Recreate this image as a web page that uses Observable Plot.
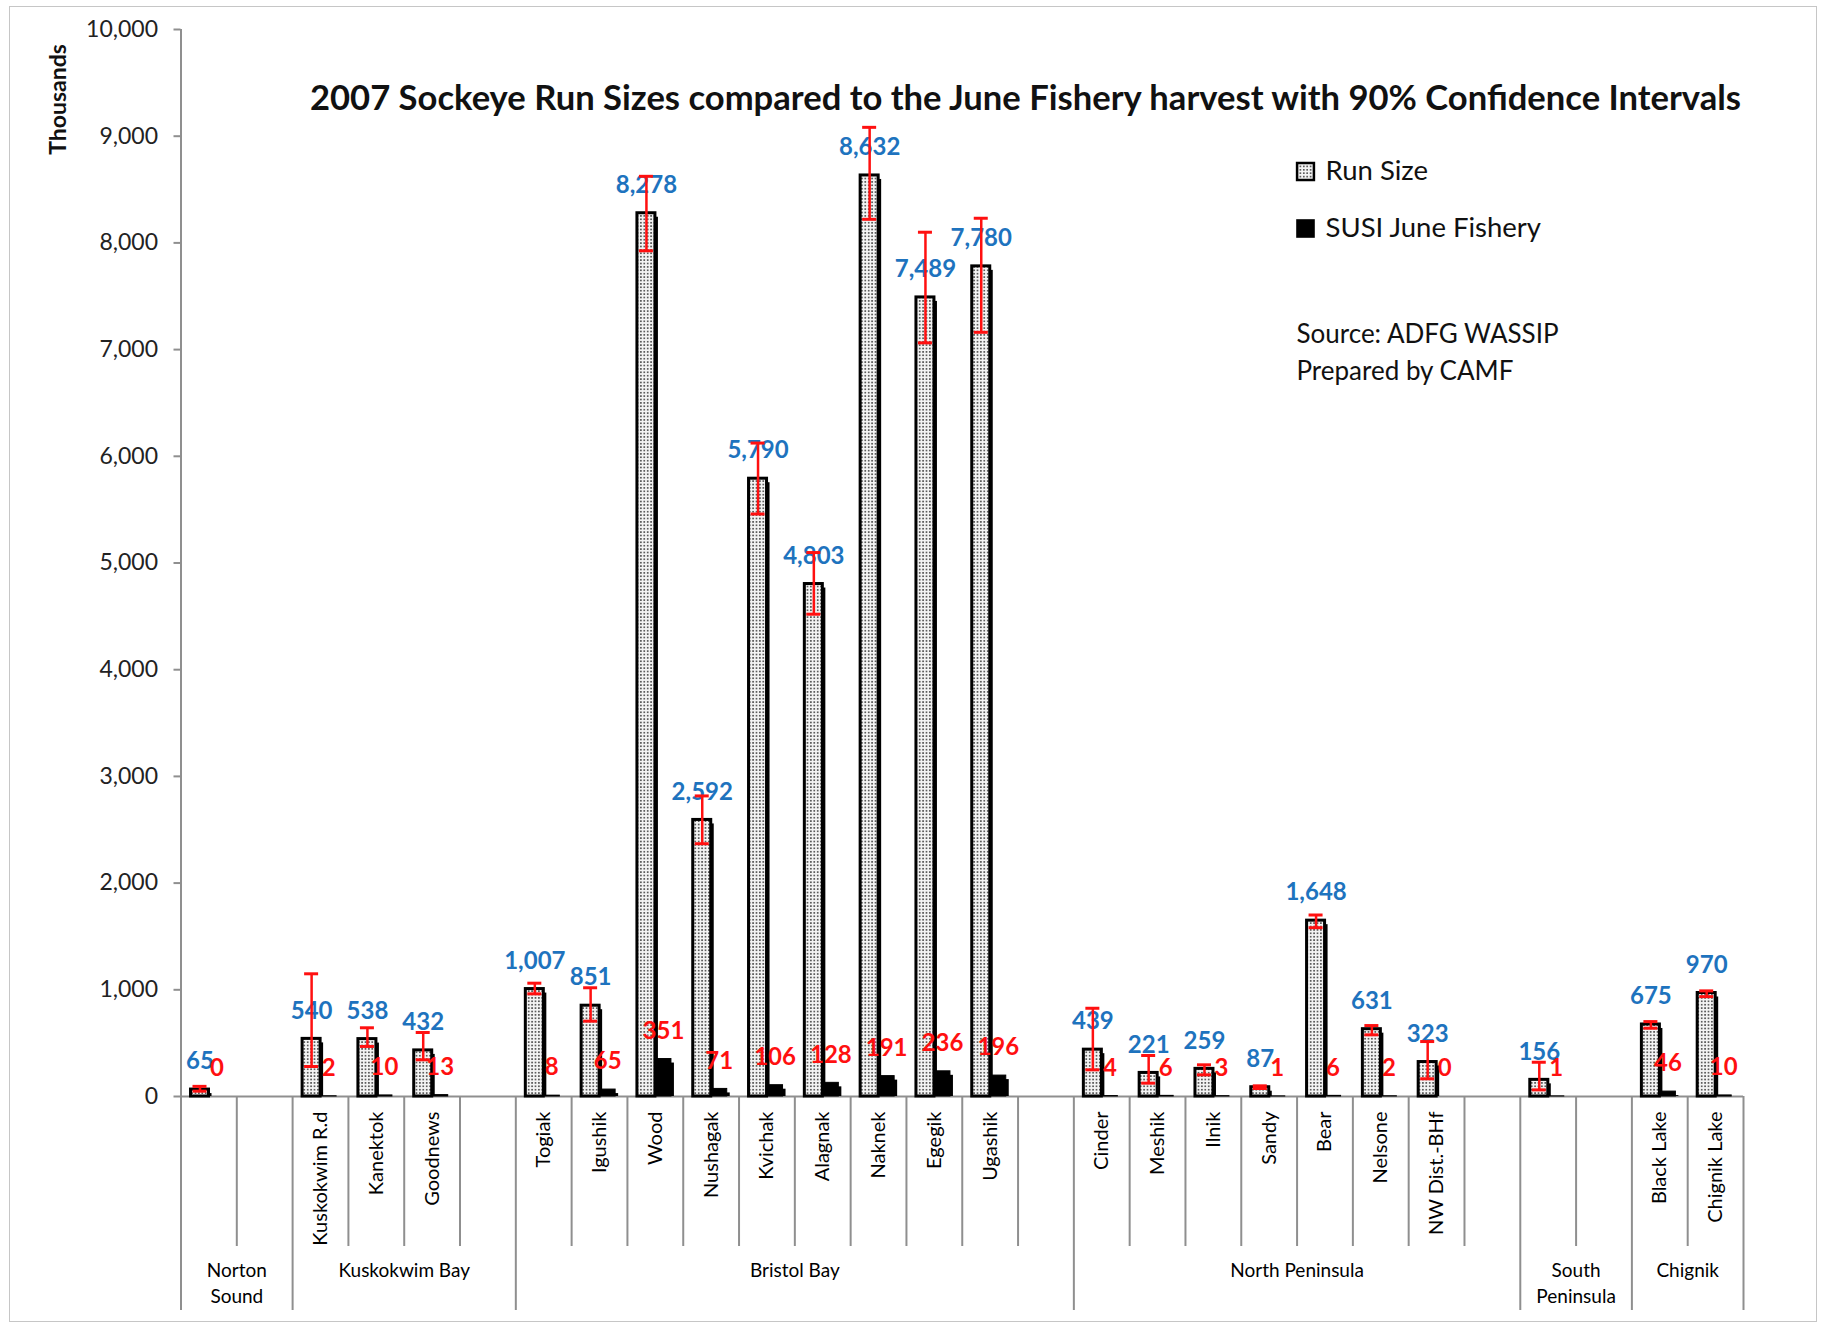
<!DOCTYPE html>
<html>
<head>
<meta charset="utf-8">
<script src="https://cdn.jsdelivr.net/npm/d3@7"></script>
<script src="https://cdn.jsdelivr.net/npm/@observablehq/plot@0.6"></script>
<style>
  body { margin: 0; background: #fff; }
  #chart { position: relative; width: 1826px; height: 1326px; }
  #chart .frame { position: absolute; left: 9px; top: 6px; width: 1806px; height: 1314px; border: 1.5px solid #c6c6c6; pointer-events: none; }
  #chart svg { position: absolute; left: 0; top: 0; }
</style>
</head>
<body>
<div id="chart"><div class="frame"></div></div>
<script>
// One slot per stock on the category axis; "" marks an unlabeled slot.
const stocks = ["", "", "Kuskokwim R.d", "Kanektok", "Goodnews", "", "Togiak", "Igushik", "Wood", "Nushagak",
  "Kvichak", "Alagnak", "Naknek", "Egegik", "Ugashik", "", "Cinder", "Meshik", "Ilnik", "Sandy", "Bear",
  "Nelsone", "NW Dist.-BHf", "", "", "", "Black Lake", "Chignik Lake"];

// 2007 sockeye run size (thousands of fish)
const runSize = [65, null, 540, 538, 432, null, 1007, 851, 8278, 2592, 5790, 4803, 8632, 7489, 7780, null,
  439, 221, 259, 87, 1648, 631, 323, null, 156, null, 675, 970];

// 90% confidence interval bounds of the run size
const runLow = [50, null, 281, 469, 344, null, 962, 706, 7926, 2369, 5459, 4520, 8221, 7063, 7162, null,
  250, 125, 203, 75, 1582, 578, 166, null, 62, null, 640, 936];
const runHigh = [95, null, 1150, 644, 600, null, 1062, 1019, 8624, 2817, 6124, 5098, 9083, 8100, 8231, null,
  827, 384, 297, 100, 1701, 665, 515, null, 321, null, 702, 990];

// SUSI June fishery harvest (thousands of fish)
const susiHarvest = [0, null, 2, 10, 13, null, 8, 65, 351, 71, 106, 128, 191, 236, 196, null,
  4, 6, 3, 1, 6, 2, 0, null, 1, null, 46, 10];

// Region groups and how many slots each spans
const regions = ["Norton\nSound", "Kuskokwim Bay", "Bristol Bay", "North Peninsula", "South\nPeninsula", "Chignik"];
const regionSlots = [2, 4, 10, 8, 2, 2];

const yTicks = [0, 1000, 2000, 3000, 4000, 5000, 6000, 7000, 8000, 9000, 10000];

const titleText = "2007 Sockeye Run Sizes compared to the June Fishery harvest with 90% Confidence Intervals";
const seriesNames = ["Run Size", "SUSI June Fishery"];
const sourceLines = ["Source: ADFG WASSIP", "Prepared by CAMF"];

// ---- derived tables ----
const rows = stocks.map((name, i) => ({
  i, name, run: runSize[i], low: runLow[i], high: runHigh[i], susi: susiHarvest[i]
}));
const filled = rows.filter(d => d.run != null);
const bounds = [0];
regionSlots.forEach(n => bounds.push(bounds[bounds.length - 1] + n));
const regionRows = regions.map((name, k) => ({name, mid: (bounds[k] + bounds[k + 1]) / 2}));
const innerBounds = d3.range(1, stocks.length).filter(i => !bounds.includes(i));

const fmt = d3.format(",");
const blue = "#1e73be";
const red = "#ff1010";
const axisGray = "#8f8f8f";
const dots = "url(#runDots)";

// bar geometry inside each slot (pixels)
const runIn = [10, 27.8];
const susiIn = [28, 11.8];
const runShift = -8.9;   // centre of run bar relative to slot centre
const susiShift = 8.1;   // centre of SUSI bar relative to slot centre

const chart = Plot.plot({
  width: 1826,
  height: 1326,
  marginLeft: 180.5,
  marginRight: 83,
  marginTop: 29,
  marginBottom: 230,
  style: {fontFamily: "Lato, 'Open Sans', sans-serif", background: "transparent", color: "#222"},
  x: {type: "linear", domain: [0, stocks.length], axis: null},
  y: {domain: [0, 10000], axis: null},
  marks: [
    // value axis
    Plot.axisY({ticks: yTicks, tickFormat: fmt, tickSize: 7, tickPadding: 16, fontSize: 23,
      color: "#222", stroke: axisGray, strokeWidth: 2, label: null}),
    Plot.ruleX([0], {y1: 0, y2: 10000, stroke: axisGray, strokeWidth: 2}),
    Plot.text(["Thousands"], {frameAnchor: "top-left", dx: -122.5, dy: 70, rotate: -90,
      textAnchor: "middle", lineAnchor: "middle", fontSize: 23, fontWeight: "bold", fill: "#111"}),

    // category axis: baseline, slot separators and region separators
    Plot.ruleY([0], {x1: 0, x2: stocks.length, stroke: axisGray, strokeWidth: 2}),
    Plot.ruleX(innerBounds, {x: d => d, y1: 0, y2: 0, insetBottom: -150, stroke: axisGray, strokeWidth: 2}),
    Plot.ruleX(bounds, {x: d => d, y1: 0, y2: 0, insetBottom: -214, stroke: axisGray, strokeWidth: 2}),
    Plot.text(rows.filter(d => d.name), {x: d => d.i + 0.5, y: 0, text: "name", rotate: -90,
      textAnchor: "end", dy: 15, fontSize: 20, fill: "#000"}),
    Plot.text(regionRows, {x: "mid", y: 0, text: "name", lineAnchor: "top", lineHeight: 1.37,
      dy: 162, fontSize: 19, fill: "#000"}),

    // bar shadows
    Plot.rect(filled, {x1: "i", x2: d => d.i + 1, y1: 0, y2: "run", insetLeft: runIn[0], insetRight: runIn[1],
      insetBottom: 4, dx: 3, dy: 4, fill: "#000"}),
    Plot.rect(filled, {x1: "i", x2: d => d.i + 1, y1: 0, y2: "susi", insetLeft: susiIn[0], insetRight: susiIn[1],
      insetBottom: 4, dx: 3, dy: 4, fill: "#000"}),
    // run size bars (dotted) and SUSI June fishery bars (solid)
    Plot.rect(filled, {x1: "i", x2: d => d.i + 1, y1: 0, y2: "run", insetLeft: runIn[0], insetRight: runIn[1],
      fill: dots, stroke: "#000", strokeWidth: 3}),
    Plot.rect(filled, {x1: "i", x2: d => d.i + 1, y1: 0, y2: "susi", insetLeft: susiIn[0], insetRight: susiIn[1],
      fill: "#000", stroke: "#000", strokeWidth: 1}),

    // value labels
    Plot.text(filled, {x: d => d.i + 0.5, y: "run", text: d => fmt(d.run), dx: runShift, dy: -28,
      fill: blue, fontWeight: "bold", fontSize: 24}),
    Plot.text(filled, {x: d => d.i + 0.5, y: "susi", text: d => fmt(d.susi), dx: susiShift, dy: -28,
      fill: red, fontWeight: "bold", fontSize: 24}),

    // 90% confidence intervals
    Plot.ruleX(filled, {x: d => d.i + 0.5, y1: "low", y2: "high", dx: runShift, stroke: red, strokeWidth: 2.5}),
    Plot.ruleY(filled, {y: "low", x1: "i", x2: d => d.i + 1, insetLeft: 12, insetRight: 29.8, stroke: red, strokeWidth: 3}),
    Plot.ruleY(filled, {y: "high", x1: "i", x2: d => d.i + 1, insetLeft: 12, insetRight: 29.8, stroke: red, strokeWidth: 3}),

    // title
    Plot.text([titleText], {frameAnchor: "top-left", dx: 844.5, dy: 69, textAnchor: "middle", lineAnchor: "middle",
      fontSize: 34.6, fontWeight: "bold", fill: "#111"}),

    // legend
    Plot.dot([seriesNames[0]], {frameAnchor: "top-left", dx: 1124.5, dy: 142, symbol: "square", r: 9.5,
      fill: dots, stroke: "#000", strokeWidth: 2.5}),
    Plot.dot([seriesNames[1]], {frameAnchor: "top-left", dx: 1124.5, dy: 199, symbol: "square", r: 10.5,
      fill: "#000"}),
    Plot.text(seriesNames, {frameAnchor: "top-left", dx: 1144.5, dy: 142, textAnchor: "start", lineAnchor: "middle",
      fontSize: 27.5, fill: "#111", filter: (d, i) => i === 0}),
    Plot.text(seriesNames, {frameAnchor: "top-left", dx: 1144.5, dy: 199, textAnchor: "start", lineAnchor: "middle",
      fontSize: 27.5, fill: "#111", filter: (d, i) => i === 1}),

    // source note
    Plot.text([sourceLines.join("\n")], {frameAnchor: "top-left", dx: 1115.5, dy: 320, textAnchor: "start",
      lineAnchor: "middle", lineHeight: 1.42, fontSize: 26, fill: "#111"})
  ]
});

// dotted fill used by the run size bars and their legend swatch
const defs = d3.select(chart).insert("defs", ":first-child");
const pat = defs.append("pattern").attr("id", "runDots").attr("patternUnits", "userSpaceOnUse")
  .attr("width", 3.4).attr("height", 3.4);
pat.append("rect").attr("width", 3.4).attr("height", 3.4).attr("fill", "#f4f4f4");
pat.append("circle").attr("cx", 1.7).attr("cy", 1.7).attr("r", 0.95).attr("fill", "#3a3a3a");

document.getElementById("chart").appendChild(chart);
</script>
</body>
</html>
